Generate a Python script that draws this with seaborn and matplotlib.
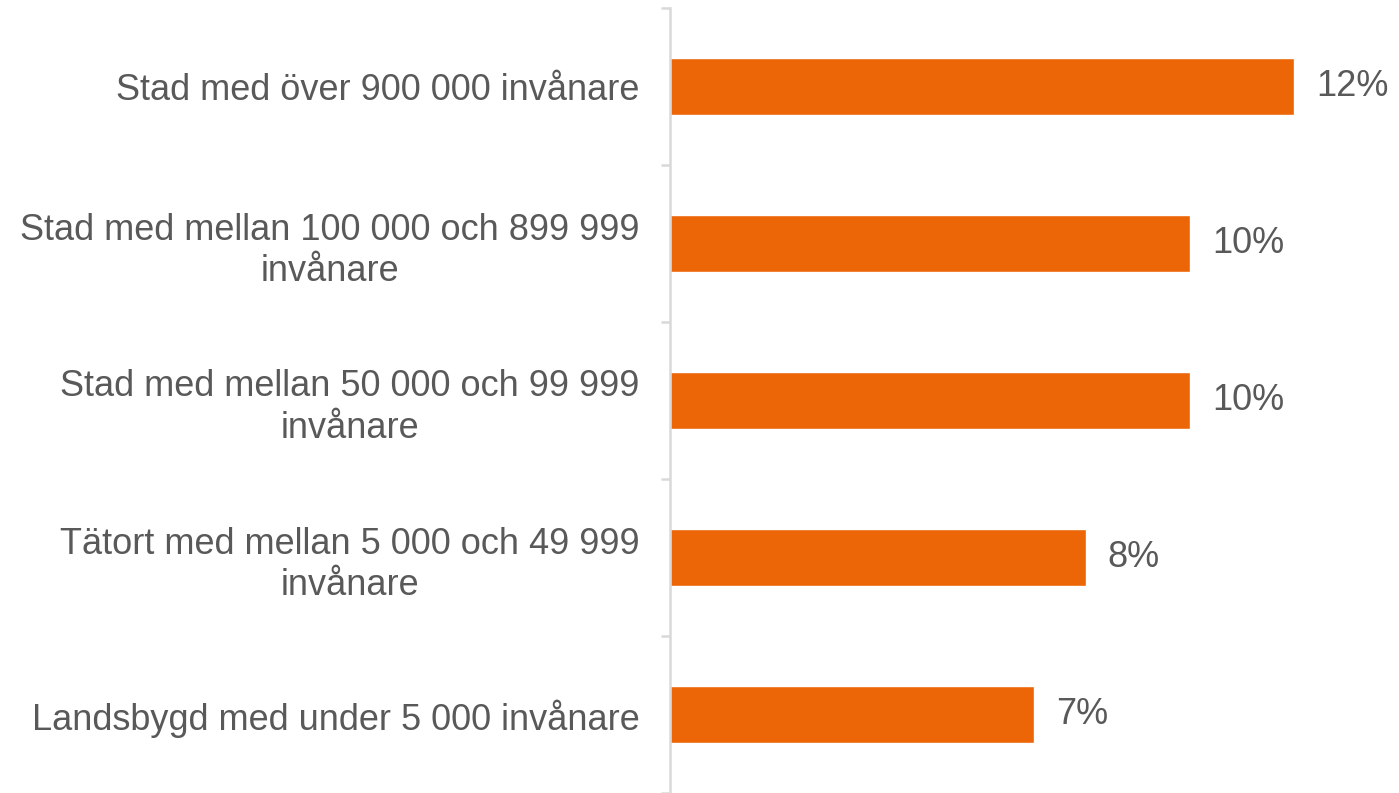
import matplotlib
matplotlib.use("Agg")
import matplotlib.pyplot as plt
import seaborn as sns
import numpy as np
import pandas as pd
from matplotlib.ticker import FixedLocator

# Data.
categories = [
    "Stad med över 900 000 invånare",
    "Stad med mellan 100 000 och 899 999\ninvånare",
    "Stad med mellan 50 000 och 99 999\ninvånare",
    "Tätort med mellan 5 000 och 49 999\ninvånare",
    "Landsbygd med under 5 000 invånare",
]
values = [12, 10, 10, 8, 7]
value_labels = ["12%", "10%", "10%", "8%", "7%"]

# Formatting constants.
BAR_COLOR = "#EC6608"
TEXT_COLOR = "#595959"
AXIS_COLOR = "#D9D9D9"
FONTSIZE = 26

sns.set_theme(style="white")
plt.rcParams["font.family"] = ["Liberation Sans", "DejaVu Sans"]

df = pd.DataFrame({"category": categories, "value": values})

fig = plt.figure(figsize=(13.99, 7.93), dpi=100)
ax = fig.add_axes([670 / 1399, 0.0, 1 - 670 / 1399, 785 / 793])

sns.barplot(data=df, x="value", y="category", orient="h", color=BAR_COLOR,
            saturation=1, width=0.36, ax=ax)

for i, (v, lab) in enumerate(zip(values, value_labels)):
    ax.text(v + 0.42, i, lab, va="center", ha="left",
            fontsize=FONTSIZE, color=TEXT_COLOR)

ax.set_xlim(0, 729 / 52.0)
ax.set_ylim(len(categories) - 0.5, -0.5)
ax.set_xlabel("")
ax.set_ylabel("")
ax.set_xticks([])

# Category labels, centred multi-line text.
ax.set_yticks(range(len(categories)))
ax.set_yticklabels(categories, fontsize=FONTSIZE, color=TEXT_COLOR,
                   multialignment="center", linespacing=1.25)
ax.tick_params(axis="y", which="major", left=False, length=0, pad=22)

# Tick marks at the category boundaries.
ax.yaxis.set_minor_locator(FixedLocator(np.arange(-0.5, len(categories), 1.0)))
ax.tick_params(axis="y", which="minor", left=True, length=6.5, width=1.8,
               color=AXIS_COLOR)

for side in ["top", "right", "bottom"]:
    ax.spines[side].set_visible(False)
ax.spines["left"].set_color(AXIS_COLOR)
ax.spines["left"].set_linewidth(1.8)

fig.savefig("out.png", dpi=100)
